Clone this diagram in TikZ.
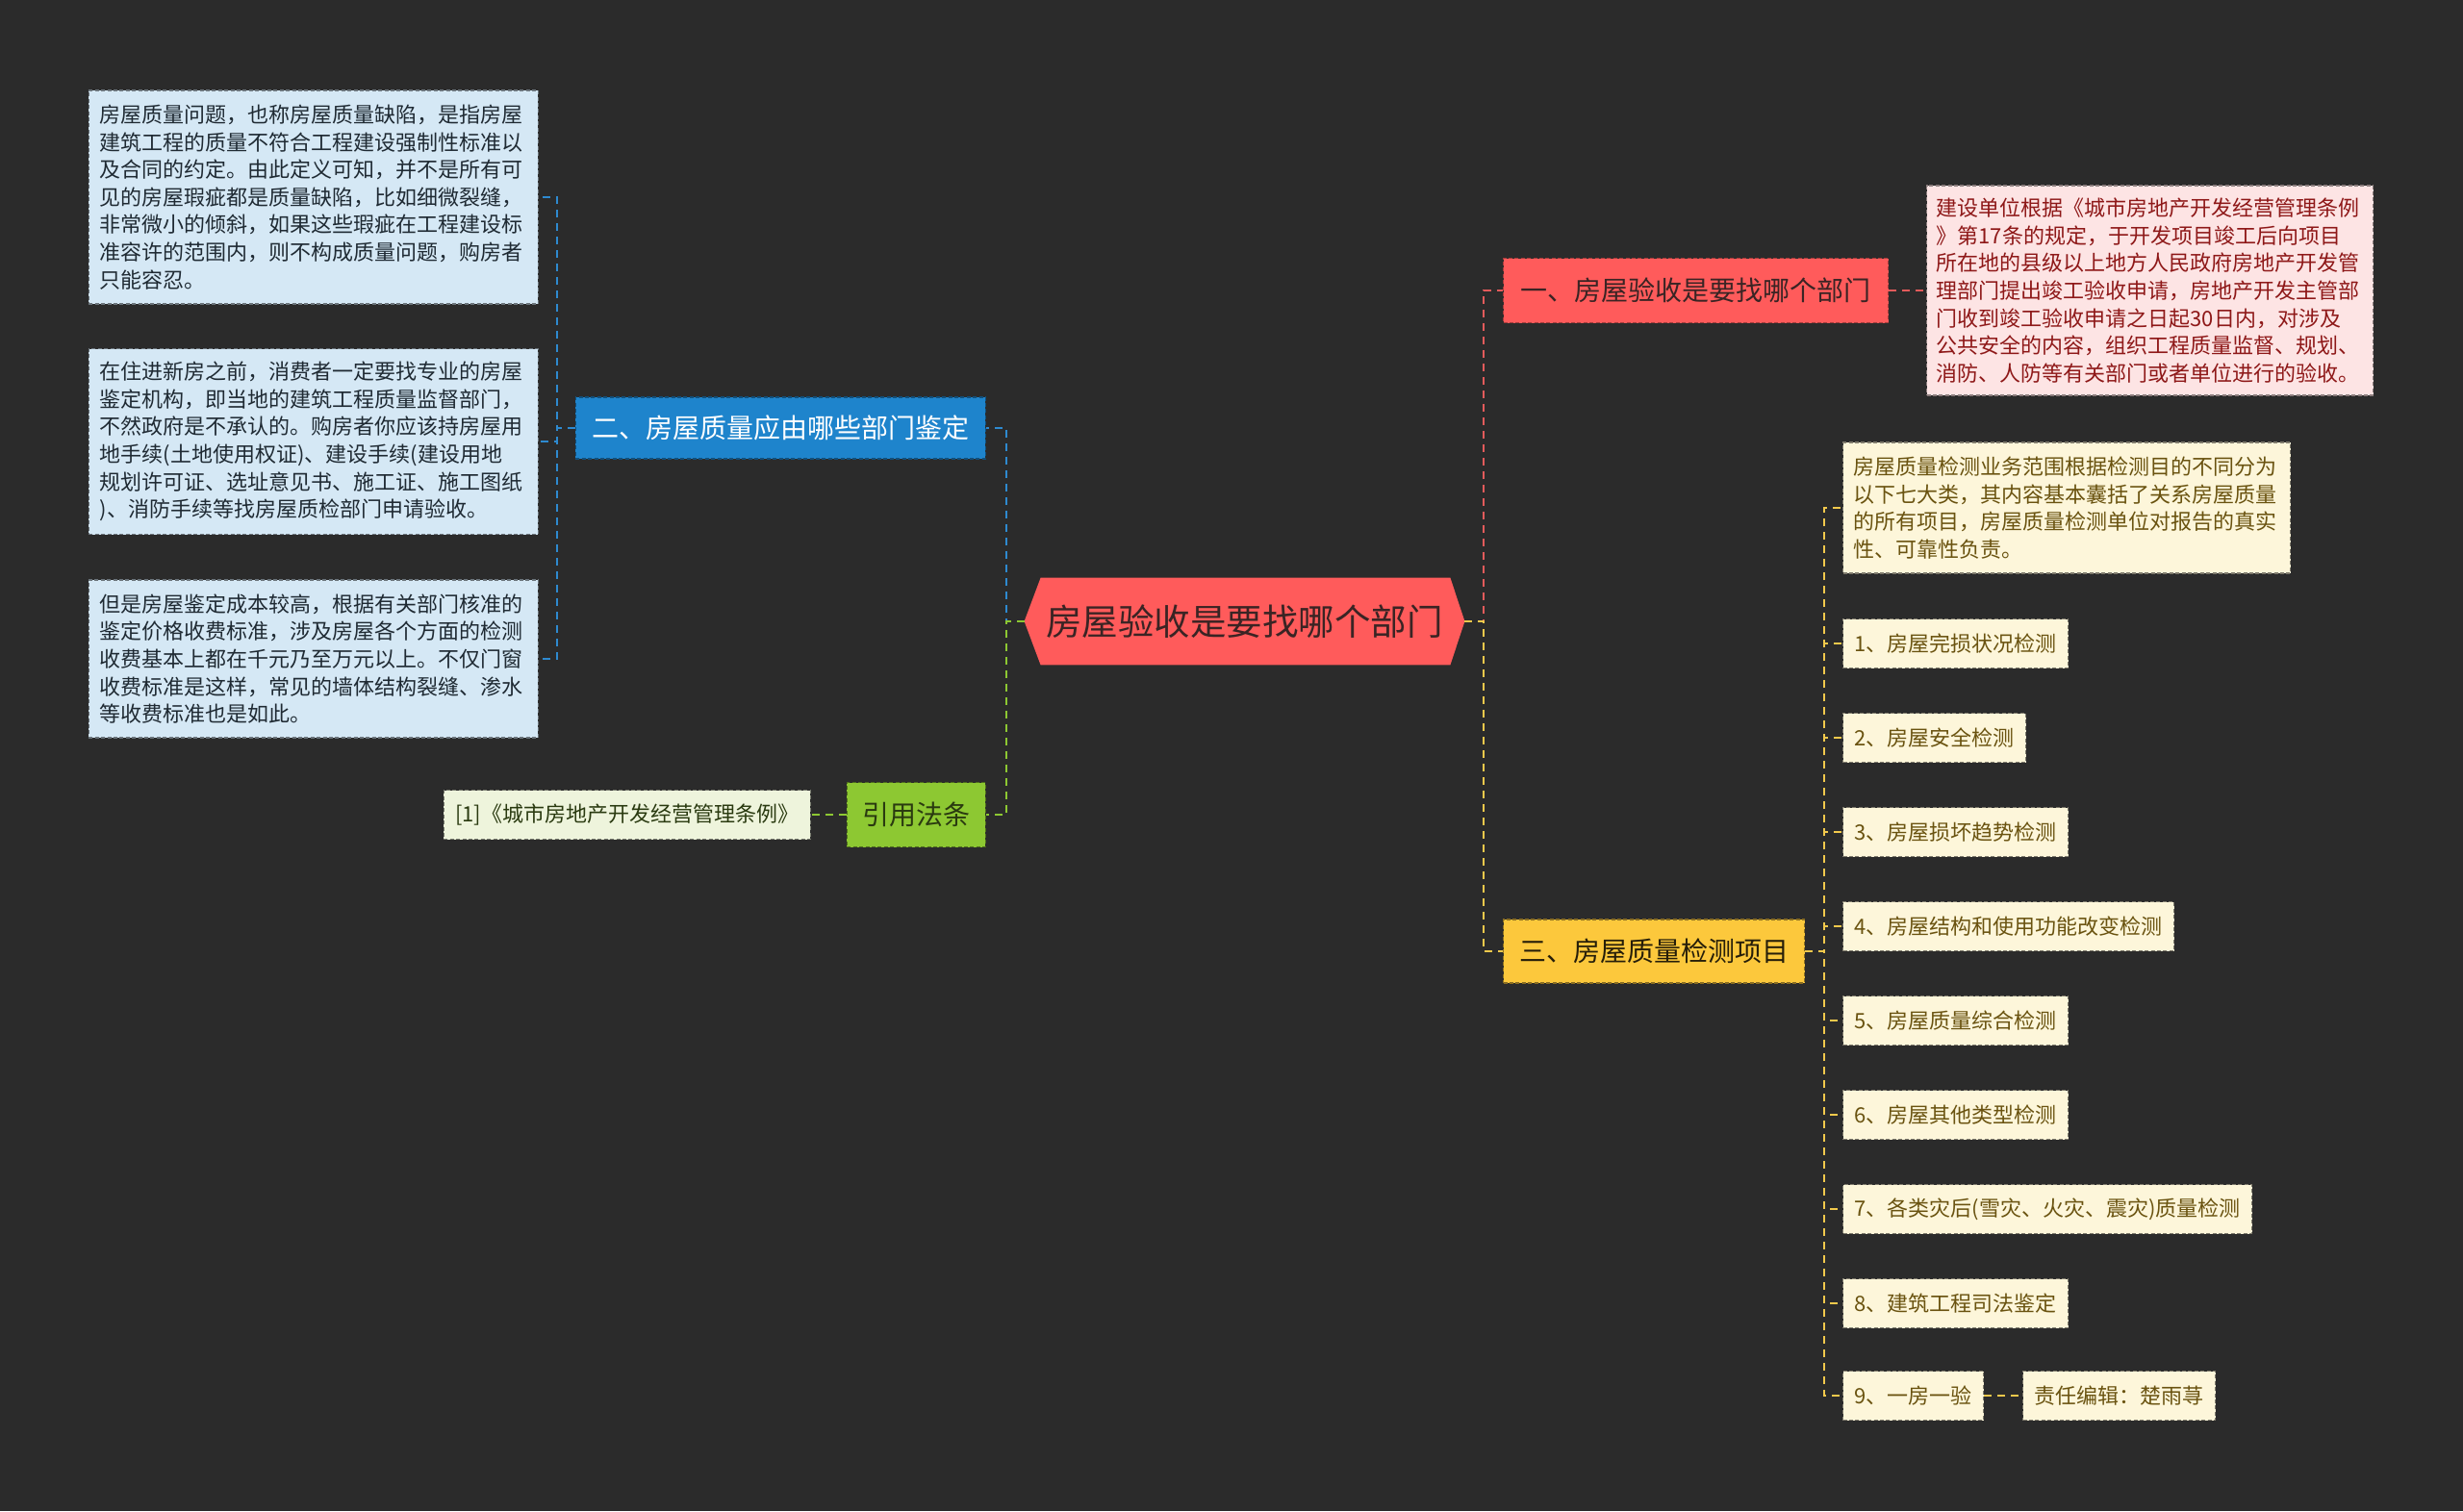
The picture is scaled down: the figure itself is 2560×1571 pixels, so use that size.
\documentclass[tikz,border=0pt]{standalone}
\usepackage{fontspec}
\setmainfont{Noto Sans CJK SC}
\usetikzlibrary{calc,backgrounds}
\definecolor{bgc}{HTML}{2B2B2B}
\definecolor{redA}{HTML}{FF5B5B}
\definecolor{redL}{HTML}{FDE4E4}
\definecolor{redT}{HTML}{8E1818}
\definecolor{redC}{HTML}{E35B5B}
\definecolor{blueA}{HTML}{1E84CC}
\definecolor{blueL}{HTML}{D5E8F5}
\definecolor{blueT}{HTML}{1F2A33}
\definecolor{blueC}{HTML}{2E8AD0}
\definecolor{greenA}{HTML}{8DC832}
\definecolor{greenL}{HTML}{EEF4DC}
\definecolor{greenT}{HTML}{2A3A10}
\definecolor{greenC}{HTML}{8DC832}
\definecolor{yelA}{HTML}{FCC83C}
\definecolor{yelL}{HTML}{FDF6DA}
\definecolor{yelT}{HTML}{6A5310}
\definecolor{yelC}{HTML}{F2C94C}
\definecolor{darkT}{HTML}{3A2424}
\tikzset{
  boxs/.style={draw, dash pattern=on 2pt off 1.2pt, line width=0.6pt, inner ysep=0pt},
  leafbox/.style={boxs, font=\fontsize{11pt}{14.3pt}\selectfont, inner xsep=6pt, minimum height=25.5pt},
  parabox/.style={leafbox, text width=222pt, align=left, inner xsep=5pt},
  branchbox/.style={boxs, font=\fontsize{14pt}{17pt}\selectfont, inner xsep=8pt},
  conn/.style={line width=1pt, dash pattern=on 4pt off 3pt},
  redleaf/.style={parabox, fill=redL, draw=redL!55!black, text=redT},
  blueleaf/.style={parabox, fill=blueL, draw=blueL!50!black, text=blueT},
  yelleaf/.style={leafbox, fill=yelL, draw=yelL!50!black, text=yelT},
  yelpara/.style={parabox, fill=yelL, draw=yelL!50!black, text=yelT},
}
\begin{document}
\begin{tikzpicture}[x=0.5pt,y=-0.5pt]
\useasboundingbox (0,0) rectangle (2560,1571);
% central topic
\node[minimum width=228.5pt, minimum height=45pt, inner sep=0pt, text=darkT,
      font=\fontsize{18.75pt}{22pt}\selectfont] (center) at (1293.5,646) {房屋验收是要找哪个部门};
\begin{scope}[on background layer]
  \fill[bgc] (0,0) rectangle (2560,1571);
  \fill[redA] (center.west) -- ($(center.north west)+(17,0)$) -- ($(center.north east)+(-15,0)$)
     -- (center.east) -- ($(center.south east)+(-15,0)$) -- ($(center.south west)+(17,0)$) -- cycle;
\end{scope}

% branches
\node[branchbox, anchor=west, fill=redA, draw=redA!65!black, text=darkT, minimum width=200pt, minimum height=33.5pt] (b1) at (1562,302) {一、房屋验收是要找哪个部门};
\node[branchbox, anchor=east, fill=blueA, draw=blueA!60!black, text=white, minimum width=213pt, minimum height=32pt] (b2) at (1025,445) {二、房屋质量应由哪些部门鉴定};
\node[branchbox, anchor=west, fill=yelA, draw=yelA!55!black, text=black!85!yelA, minimum width=156.5pt, minimum height=33pt] (b3) at (1562,989) {三、房屋质量检测项目};
\node[branchbox, anchor=east, fill=greenA, draw=greenA!55!black, text=greenT, minimum width=71pt, minimum height=33.5pt] (b4) at (1025,847) {引用法条};

% red leaf
\node[redleaf, anchor=west, minimum width=231.5pt, minimum height=109pt] (p1) at (2002,302) {建设单位根据《城市房地产开发经营管理条例\\
》第17条的规定，于开发项目竣工后向项目\\
所在地的县级以上地方人民政府房地产开发管\\
理部门提出竣工验收申请，房地产开发主管部\\
门收到竣工验收申请之日起30日内，对涉及\\
公共安全的内容，组织工程质量监督、规划、\\
消防、人防等有关部门或者单位进行的验收。};

% blue leaves
\node[blueleaf, anchor=east, minimum width=233.5pt, minimum height=111pt] (l1) at (560,205) {房屋质量问题，也称房屋质量缺陷，是指房屋\\
建筑工程的质量不符合工程建设强制性标准以\\
及合同的约定。由此定义可知，并不是所有可\\
见的房屋瑕疵都是质量缺陷，比如细微裂缝，\\
非常微小的倾斜，如果这些瑕疵在工程建设标\\
准容许的范围内，则不构成质量问题，购房者\\
只能容忍。};
\node[blueleaf, anchor=east, minimum width=233.5pt, minimum height=96.5pt] (l2) at (560,459) {在住进新房之前，消费者一定要找专业的房屋\\
鉴定机构，即当地的建筑工程质量监督部门，\\
不然政府是不承认的。购房者你应该持房屋用\\
地手续(土地使用权证)、建设手续(建设用地\\
规划许可证、选址意见书、施工证、施工图纸\\
)、消防手续等找房屋质检部门申请验收。};
\node[blueleaf, anchor=east, minimum width=233.5pt, minimum height=82pt] (l3) at (560,685) {但是房屋鉴定成本较高，根据有关部门核准的\\
鉴定价格收费标准，涉及房屋各个方面的检测\\
收费基本上都在千元乃至万元以上。不仅门窗\\
收费标准是这样，常见的墙体结构裂缝、渗水\\
等收费标准也是如此。};

% green leaf
\node[leafbox, anchor=east, fill=greenL, draw=greenL!50!black, text=greenT, minimum width=190.5pt] (g1) at (843,847) {[1]《城市房地产开发经营管理条例》};

% yellow leaves
\node[yelpara, anchor=west, minimum width=232.5pt, minimum height=68pt] (y0) at (1915,528) {房屋质量检测业务范围根据检测目的不同分为\\
以下七大类，其内容基本囊括了关系房屋质量\\
的所有项目，房屋质量检测单位对报告的真实\\
性、可靠性负责。};
\node[yelleaf, anchor=west] (y1) at (1915,669) {1、房屋完损状况检测};
\node[yelleaf, anchor=west] (y2) at (1915,767) {2、房屋安全检测};
\node[yelleaf, anchor=west] (y3) at (1915,865) {3、房屋损坏趋势检测};
\node[yelleaf, anchor=west] (y4) at (1915,963) {4、房屋结构和使用功能改变检测};
\node[yelleaf, anchor=west] (y5) at (1915,1061) {5、房屋质量综合检测};
\node[yelleaf, anchor=west] (y6) at (1915,1159) {6、房屋其他类型检测};
\node[yelleaf, anchor=west] (y7) at (1915,1257) {7、各类灾后(雪灾、火灾、震灾)质量检测};
\node[yelleaf, anchor=west] (y8) at (1915,1355) {8、建筑工程司法鉴定};
\node[yelleaf, anchor=west] (y9) at (1915,1451) {9、一房一验};
\node[yelleaf, anchor=west] (ed) at (2102,1451) {责任编辑：楚雨荨};

% connectors
\draw[conn, redC] (center.east) -- ++(20,0) |- (b1.west);
\draw[conn, yelC] (center.east) -- ++(20,0) |- (b3.west);
\draw[conn, blueC] (center.west) -- ++(-19,0) |- (b2.east);
\draw[conn, greenC] (center.west) -- ++(-19,0) |- (b4.east);
\draw[conn, redC] (b1.east) -- ++(20,0) |- (p1.west);
\foreach \n in {l1,l2,l3} \draw[conn, blueC] (b2.west) -- ++(-19,0) |- (\n.east);
\draw[conn, greenC] (b4.west) -- (g1.east);
\foreach \n in {y0,y1,y2,y3,y4,y5,y6,y7,y8,y9} \draw[conn, yelC] (b3.east) -- ++(20,0) |- (\n.west);
\draw[conn, yelC] (y9.east) -- (ed.west);
\end{tikzpicture}
\end{document}
